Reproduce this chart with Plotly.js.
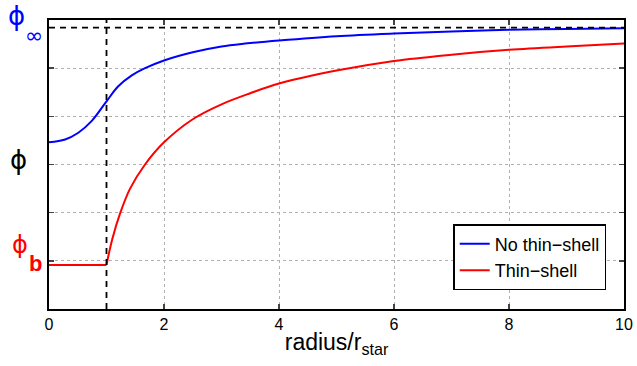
<!DOCTYPE html>
<html>
<head>
<meta charset="utf-8">
<script src="https://cdn.plot.ly/plotly-3.0.1.min.js"></script>
<style>html,body{margin:0;padding:0;background:#fff;}#chart{width:637px;height:366px;}</style>
</head>
<body>
<div id="chart"></div>
<script>
// Data
const blueX = [0, 0.28, 0.51, 0.74, 1.0, 1.2, 1.44, 1.67, 2.0, 2.5, 3.0, 3.41, 4, 5, 6, 7, 8, 9, 10];
const blueY = [3.46, 3.52, 3.66, 3.9, 4.31, 4.62, 4.85, 5.0, 5.16, 5.33, 5.45, 5.51, 5.575, 5.665, 5.72, 5.76, 5.795, 5.815, 5.83];
const redFlatX = [0, 1];
const redFlatY = [0.916, 0.916];
const redX = [1, 1.1, 1.235, 1.41, 1.67, 2.0, 2.5, 3.0, 3.5, 4.0, 5, 6, 7, 8, 9, 10];
const redY = [0.916, 1.45, 1.98, 2.5, 3.0, 3.46, 3.94, 4.25, 4.48, 4.68, 4.95, 5.15, 5.28, 5.38, 5.45, 5.51];
const phiInf = 5.84;
const rStar = 1;
const xTicks = [0, 2, 4, 6, 8, 10];
const yTicks = [0, 1, 2, 3, 4, 5, 6];
const seriesNames = ['No thin\u2212shell', 'Thin\u2212shell'];

const traces = [
  {x: blueX, y: blueY, mode: 'lines', name: seriesNames[0], line: {color: '#0000ff', width: 2, shape: 'spline', smoothing: 1}},
  {x: redX, y: redY, mode: 'lines', name: seriesNames[1], legendgroup: 'red', line: {color: '#ff0000', width: 2, shape: 'spline', smoothing: 1}},
  {x: redFlatX, y: redFlatY, mode: 'lines', showlegend: false, legendgroup: 'red', line: {color: '#ff0000', width: 2}},
  {x: [0, 10], y: [phiInf, phiInf], mode: 'lines', showlegend: false, hoverinfo: 'skip', line: {color: '#000', width: 1.8, dash: '6px,5px'}},
  {x: [rStar, rStar], y: [0, 6], mode: 'lines', showlegend: false, hoverinfo: 'skip', line: {color: '#000', width: 1.8, dash: '6px,5px'}}
];

const fontFam = '"Liberation Sans", Arial, sans-serif';
const symFam = '"DejaVu Sans", sans-serif';
const layout = {
  width: 637, height: 366,
  margin: {l: 49, r: 13, t: 20, b: 57},
  paper_bgcolor: '#fff', plot_bgcolor: '#fff',
  showlegend: true,
  legend: {x: 0.703, y: 0.294, xanchor: 'left', yanchor: 'top', bordercolor: '#000', borderwidth: 1.5, bgcolor: '#fff',
           font: {family: fontFam, size: 18, color: '#000'}, tracegroupgap: 0, itemwidth: 30},
  xaxis: {range: [0, 10], tickvals: xTicks, ticktext: xTicks.map(String), ticks: 'inside', ticklen: 5, tickwidth: 1.5,
          showline: true, linecolor: '#000', linewidth: 2, mirror: 'ticks', showgrid: true, gridcolor: '#b0b0b0', griddash: 'dot', gridwidth: 1,
          zeroline: false, tickfont: {family: fontFam, size: 16, color: '#000'},
          title: {text: 'radius/r<sub>star</sub>', font: {family: fontFam, size: 23, color: '#000'}, standoff: 2}},
  yaxis: {range: [0, 6], tickvals: yTicks, showticklabels: false, ticks: 'inside', ticklen: 5, tickwidth: 1.5,
          showline: true, linecolor: '#000', linewidth: 2, mirror: 'ticks', showgrid: true, gridcolor: '#b0b0b0', griddash: 'dot', gridwidth: 1,
          zeroline: false},
  annotations: [
    {xref: 'paper', yref: 'paper', x: -0.0557, y: 1.014, text: '\u03d5', showarrow: false, xanchor: 'center', yanchor: 'middle',
     font: {family: symFam, size: 26, color: '#0000ff'}},
    {xref: 'paper', yref: 'paper', x: -0.026, y: 0.945, text: '\u221e', showarrow: false, xanchor: 'center', yanchor: 'middle',
     font: {family: symFam, size: 22, color: '#0000ff'}},
    {xref: 'paper', yref: 'paper', x: -0.0539, y: 0.5156, text: '\u03d5', showarrow: false, xanchor: 'center', yanchor: 'middle',
     font: {family: symFam, size: 26, color: '#000'}},
    {xref: 'paper', yref: 'paper', x: -0.0504, y: 0.2215, text: '\u03d5', showarrow: false, xanchor: 'center', yanchor: 'middle',
     font: {family: symFam, size: 24, color: '#ff0000'}},
    {xref: 'paper', yref: 'paper', x: -0.0235, y: 0.158, text: '<b>b</b>', showarrow: false, xanchor: 'center', yanchor: 'middle',
     font: {family: fontFam, size: 22, color: '#ff0000'}}
  ]
};

Plotly.newPlot('chart', traces, layout, {displayModeBar: false, staticPlot: true});
</script>
</body>
</html>
